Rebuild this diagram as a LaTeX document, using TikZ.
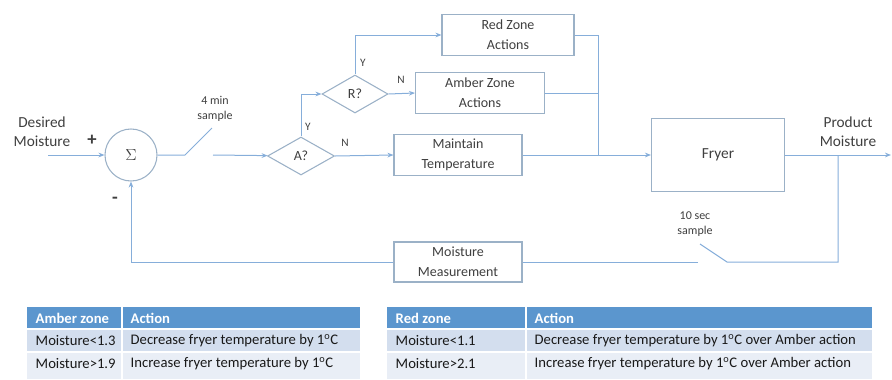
\documentclass[tikz,border=0pt]{standalone}
\usepackage{fontspec}
\setmainfont{Carlito}
\usetikzlibrary{shapes.geometric,arrows.meta,positioning}
\definecolor{wireblue}{HTML}{86AEDA}
\definecolor{boxedge}{HTML}{9BB1C7}
\definecolor{ink}{HTML}{3F3F3F}
\definecolor{headblue}{HTML}{5B96CE}
\definecolor{rowdark}{HTML}{D3DEEE}
\definecolor{rowlight}{HTML}{E9EEF6}
\tikzset{block/.style={draw=boxedge, fill=white, text=ink, align=center, line width=0.8pt,
  font=\fontsize{10.5}{15}\selectfont},
decide/.style={diamond, draw=boxedge, text=ink, line width=0.8pt, inner sep=0pt,
  font=\fontsize{10.5}{13}\selectfont},
wire/.style={draw=wireblue, line width=0.75pt},
feed/.style={wire, -{Stealth[length=4.5pt,width=3.5pt]}},
tag/.style={text=ink, align=center, font=\fontsize{9}{11.5}\selectfont},
yn/.style={text=ink, font=\fontsize{8.5}{10}\selectfont},
cell/.style={anchor=west, text=black!90, font=\fontsize{11}{12}\selectfont},
headcell/.style={anchor=west, text=white, font=\fontsize{11}{12}\selectfont\bfseries},
%default sizes in pixels of the reference
}

\begin{document}
\begin{tikzpicture}[x=0.75pt, y=-0.75pt]
\useasboundingbox (0,0) rectangle (892,379);

% loop
\node[circle, draw=boxedge, line width=0.8pt, minimum size=39pt, inner sep=0pt, text=ink] (sum) at (131,155) {\large$\Sigma$};
\node[decide, minimum width=50.25pt, minimum height=28.5pt] (A) at (301,156) {A?};
\node[decide, minimum width=49.5pt, minimum height=28.5pt] (R) at (355,94) {R?};
\node[block, minimum width=99pt, minimum height=30.75pt] (red) at (508,35) {Red Zone\\Actions};
\node[block, minimum width=96.75pt, minimum height=30.75pt] (amber) at (480,93) {Amber Zone\\Actions};
\node[block, minimum width=96pt, minimum height=30pt] (keep) at (458,155) {Maintain\\Temperature};
\node[block, minimum width=99.75pt, minimum height=54.75pt, font=\fontsize{11.5}{14}\selectfont] (fryer) at (718,155) {Fryer};
\node[block, minimum width=96pt, minimum height=30pt] (meas) at (458,262) {Moisture\\Measurement};

%labels
\node[text=ink, align=center, font=\fontsize{11.5}{14}\selectfont] (want) at (42,132) {Desired\\Moisture};
\node[text=ink, align=center, font=\fontsize{11.5}{14}\selectfont] (prod) at (848,132) {Product\\Moisture};
\node[text=ink, font=\fontsize{14}{14}\selectfont\bfseries] (plus) at (92,140) {+};
\node[text=ink, font=\fontsize{14}{14}\selectfont\bfseries] (minus) at (115,200) {-};
\node[tag] (fourmin) at (215,109) {4 min\\sample};
\node[tag] (tensec) at (695,224) {10 sec\\sample};
\node[yn] (ya) at (308,127) {Y};
\node[yn] (yr) at (363,63) {Y};
\node[yn] (na) at (345,143) {N};
\node[yn] (nr) at (401,80) {N};

\coordinate (in) at (48,155);
\coordinate (s1) at (185,155);
\coordinate (s2) at (212,128);
\coordinate (s3) at (213,155);
\coordinate (join) at (598,155);
\coordinate (out) at (891,155);
\coordinate (tap) at (838,155);
\coordinate (t1) at (727,262);
\coordinate (t2) at (700,244);
\coordinate (t3) at (698,262);

\draw[feed] (in) -- (sum);
\draw[wire] (sum) -- (s1) -- (s2);
\draw[feed] (s3) -- (A);
\draw[feed] (A.north) |- (R.west);
\draw[feed] (R.north) |- (red.west);
\draw[feed] (R.east) -- (amber.west);
\draw[feed] (A.east) -- (keep.west);
\draw[wire] (red.east) -| (join);
\draw[wire] (amber.east) -- (amber.east -| join);
\draw[feed] (keep.east) -- (fryer.west);
\draw[feed] (fryer.east) -- (out);
\draw[wire] (tap) |- (t1) -- (t2);
\draw[wire] (t3) -- (meas.east);
\draw[feed] (meas.west) -| (sum.south);

% tables
\fill[headblue] (27,307) rectangle (360,329);
\fill[rowdark] (27,329) rectangle (360,352);
\fill[rowlight] (27,352) rectangle (360,379);
\fill[headblue] (387,307) rectangle (872,329);
\fill[rowdark] (387,329) rectangle (872,352);
\fill[rowlight] (387,352) rectangle (872,379);
\draw[white, line width=0.8pt] (27,329) -- (360,329) (27,352) -- (360,352) (122,307) -- (122,379);
\draw[white, line width=0.8pt] (387,329) -- (872,329) (387,352) -- (872,352) (526,307) -- (526,379);

\node[headcell] (ahead) at (31,318) {Amber zone};
\node[headcell] (aact) at (126,318) {Action};
\node[headcell] (rhead) at (391,318) {Red zone};
\node[headcell] (ract) at (530,318) {Action};
\foreach \r/\y/\lima/\acta/\limr/\actr in {
  1/341/Moisture<1.3/Decrease/Moisture<1.1/Decrease,
  2/364/Moisture>1.9/Increase/Moisture>2.1/Increase}
{
  \node[cell] (alim\r) at (31,\y) {\lima};
  \node[cell] (aact\r) at (126,\y) {\acta\ fryer temperature by 1\textsuperscript{o}C};
  \node[cell] (rlim\r) at (391,\y) {\limr};
  \node[cell] (ract\r) at (530,\y) {\actr\ fryer temperature by 1\textsuperscript{o}C over Amber action};
}

\end{tikzpicture}
\end{document}
